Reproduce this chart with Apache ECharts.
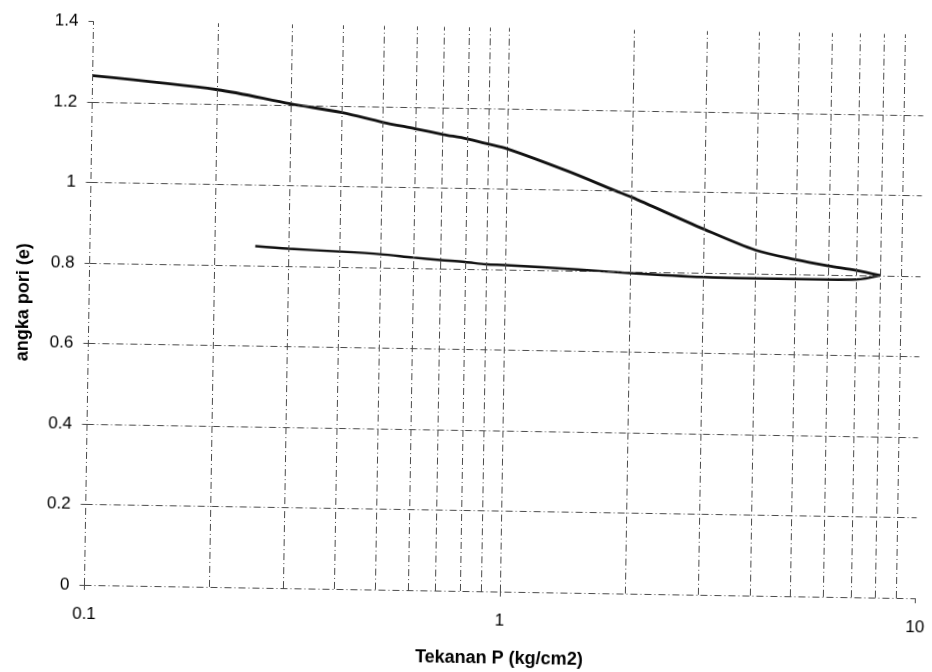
<!DOCTYPE html>
<html>
<head>
<meta charset="utf-8">
<script src="https://cdn.jsdelivr.net/npm/echarts@6/dist/echarts.min.js"></script>
<style>
  html, body { margin: 0; padding: 0; background: #ffffff; }
  /* the printed sheet sits with a slight clockwise tilt */
  #chart { width: 932px; height: 672px; transform: rotate(0.92deg); transform-origin: 50% 50%; }
</style>
</head>
<body>
<div id="chart"></div>
<script>
// Consolidation curve: void ratio against pressure (log scale)
const loadP = [0.1, 0.2, 0.3, 0.4, 0.5, 0.6, 0.7, 0.8, 0.9, 1, 1.4, 1.83, 2, 3, 4, 5, 6, 7, 8];
const loadE = [1.265, 1.235, 1.203, 1.183, 1.161, 1.146, 1.133, 1.123, 1.111, 1.100, 1.047, 1.000, 0.985, 0.908, 0.858, 0.836, 0.822, 0.812, 0.800];

const unloadP = [8, 7, 6, 5, 4, 3, 2, 1.5, 1, 0.9, 0.8, 0.7, 0.6, 0.5, 0.4, 0.3, 0.25];
const unloadE = [0.800, 0.789, 0.788, 0.788, 0.788, 0.789, 0.796, 0.803, 0.811, 0.812, 0.817, 0.821, 0.826, 0.833, 0.838, 0.843, 0.848];

// grid lines: every log-cycle subdivision, and every 0.2 of e (top and right edges left open)
const verticalGrid = [0.1, 0.2, 0.3, 0.4, 0.5, 0.6, 0.7, 0.8, 0.9, 1, 2, 3, 4, 5, 6, 7, 8, 9];
const horizontalGrid = [0, 0.2, 0.4, 0.6, 0.8, 1, 1.2];

const xTitle = 'Tekanan P (kg/cm2)';
const yTitle = 'angka pori (e)';

const FONT = 'Liberation Sans, Arial, sans-serif';
const gridStyle = { color: '#4a4a4a', width: 1, type: [7, 3, 1, 3] };

const zip = (xs, ys) => xs.map((x, i) => [x, ys[i]]);

const chart = echarts.init(document.getElementById('chart'), null, { renderer: 'canvas' });
chart.setOption({
  animation: false,
  backgroundColor: '#ffffff',
  grid: { left: 88.5, right: 9, top: 27.3, bottom: 79.5, containLabel: false },
  xAxis: {
    type: 'log',
    logBase: 10,
    min: 0.1,
    max: 10,
    name: xTitle,
    nameLocation: 'middle',
    nameGap: 58,
    nameTextStyle: { fontFamily: FONT, fontSize: 18, fontWeight: 'bold', color: '#000' },
    axisLine: { show: false },
    axisTick: { show: true, length: 5, lineStyle: { color: '#4a4a4a' } },
    axisLabel: { fontFamily: FONT, fontSize: 17, color: '#000', margin: 21 },
    splitLine: { show: false },
    minorSplitLine: { show: false }
  },
  yAxis: {
    type: 'value',
    min: 0,
    max: 1.4,
    interval: 0.2,
    name: yTitle,
    nameLocation: 'middle',
    nameGap: 56,
    nameTextStyle: { fontFamily: FONT, fontSize: 18, fontWeight: 'bold', color: '#000' },
    axisLine: { show: false },
    axisTick: { show: true, length: 5, lineStyle: { color: '#4a4a4a' } },
    axisLabel: { fontFamily: FONT, fontSize: 17, color: '#000', margin: 15 },
    splitLine: { show: false }
  },
  series: [
    {
      name: 'grid',
      type: 'line',
      data: [],
      z: 1,
      silent: true,
      markLine: {
        silent: true,
        symbol: 'none',
        animation: false,
        label: { show: false },
        lineStyle: gridStyle,
        emphasis: { disabled: true },
        data: verticalGrid.map(v => ({ xAxis: v })).concat(horizontalGrid.map(v => ({ yAxis: v })))
      }
    },
    {
      name: 'pembebanan',
      type: 'line',
      z: 3,
      data: zip(loadP, loadE),
      smooth: 0.3,
      showSymbol: false,
      lineStyle: { color: '#111111', width: 2.8 }
    },
    {
      name: 'pelepasan',
      type: 'line',
      z: 3,
      data: zip(unloadP, unloadE),
      smooth: 0.3,
      showSymbol: false,
      lineStyle: { color: '#111111', width: 2.4 }
    }
  ]
});
</script>
</body>
</html>
